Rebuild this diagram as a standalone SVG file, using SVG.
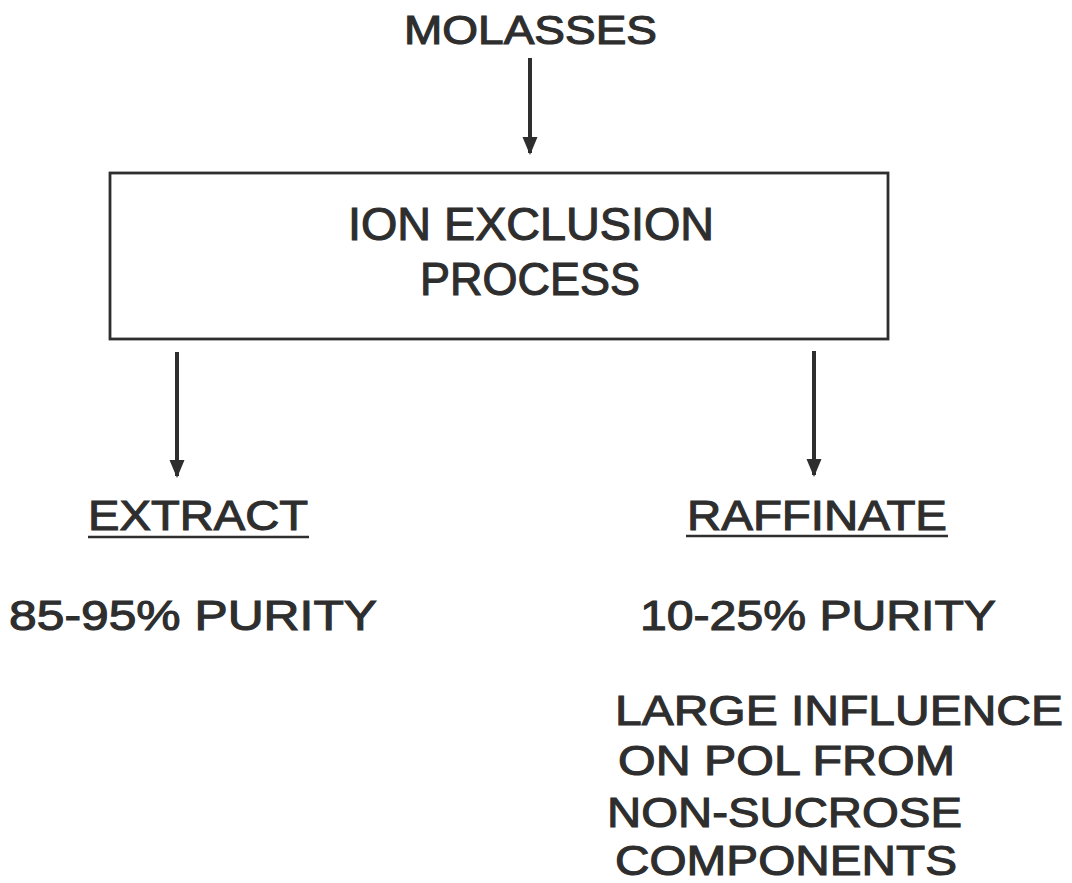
<svg xmlns="http://www.w3.org/2000/svg" width="1072" height="883" viewBox="0 0 1072 883">
<style>
text{font-family:"Liberation Sans",Arial,sans-serif;fill:#2e2e2e;stroke:#2e2e2e;stroke-width:1.1px}
.t{font-size:40px}
.b{font-size:46px}
.m{font-size:43px}
.c{stroke:#2e2e2e;stroke-width:4;fill:none}
.u{stroke:#2e2e2e;stroke-width:2.5}
</style>
<defs>
<marker id="ah" markerWidth="18" markerHeight="16" refX="16" refY="8" orient="auto" markerUnits="userSpaceOnUse" viewBox="0 0 18 16">
<path d="M0,0.5 L18,8 L0,15.5 Z" fill="#2e2e2e"/>
</marker>
</defs>
<rect width="1072" height="883" fill="#ffffff"/>
<g id="connectors">
<line class="c" x1="530" y1="58" x2="530" y2="153" marker-end="url(#ah)"/>
<line class="c" x1="177" y1="352" x2="177" y2="476" marker-end="url(#ah)"/>
<line class="c" x1="814" y1="351" x2="814" y2="475" marker-end="url(#ah)"/>
</g>
<g id="molasses">
<text class="t" x="404" y="44" textLength="253" lengthAdjust="spacingAndGlyphs">MOLASSES</text>
</g>
<g id="ion-exclusion">
<rect x="110" y="173" width="778" height="166" fill="none" stroke="#2e2e2e" stroke-width="2.8"/>
<text class="b" x="348" y="240" textLength="366" lengthAdjust="spacingAndGlyphs">ION EXCLUSION</text>
<text class="b" x="420" y="295" textLength="220" lengthAdjust="spacingAndGlyphs">PROCESS</text>
</g>
<g id="extract">
<text class="m" x="88" y="530" textLength="220" lengthAdjust="spacingAndGlyphs">EXTRACT</text>
<line class="u" x1="88" y1="537" x2="309" y2="537"/>
<text class="m" x="9" y="630" textLength="368" lengthAdjust="spacingAndGlyphs">85-95% PURITY</text>
</g>
<g id="raffinate">
<text class="m" x="687" y="530" textLength="260" lengthAdjust="spacingAndGlyphs">RAFFINATE</text>
<line class="u" x1="686" y1="536" x2="948" y2="536"/>
<text class="m" x="640" y="630" textLength="356" lengthAdjust="spacingAndGlyphs">10-25% PURITY</text>
<text class="m" x="615" y="725" textLength="448" lengthAdjust="spacingAndGlyphs">LARGE INFLUENCE</text>
<text class="m" x="618" y="775" textLength="337" lengthAdjust="spacingAndGlyphs">ON POL FROM</text>
<text class="m" x="607" y="827" textLength="355" lengthAdjust="spacingAndGlyphs">NON-SUCROSE</text>
<text class="m" x="615" y="875" textLength="342" lengthAdjust="spacingAndGlyphs">COMPONENTS</text>
</g>
</svg>
